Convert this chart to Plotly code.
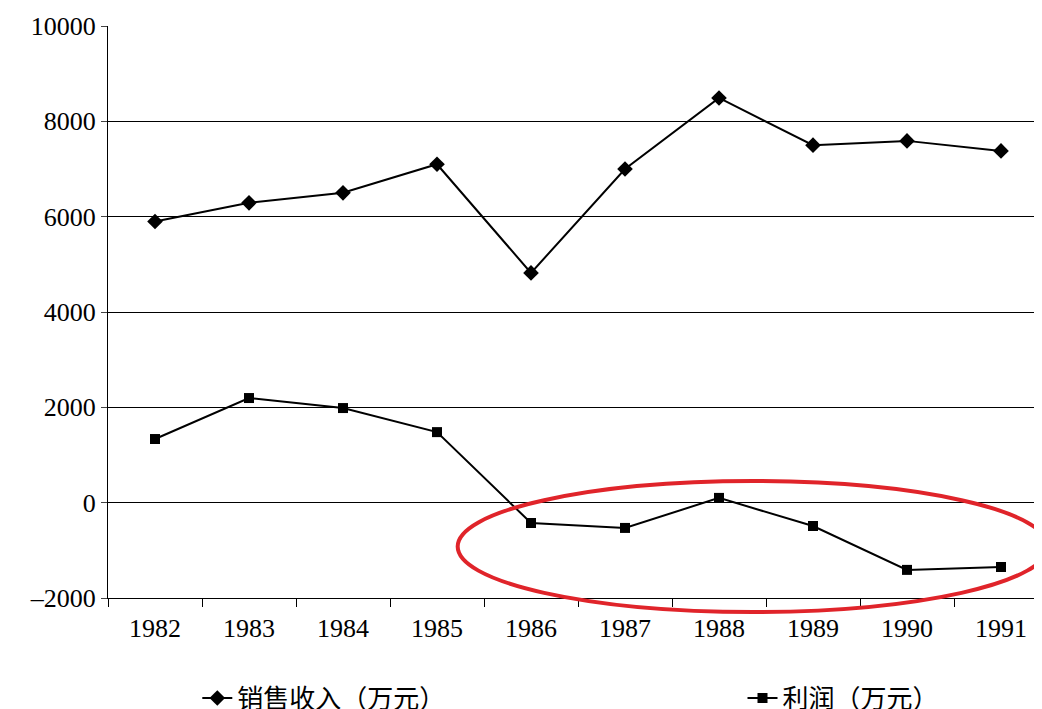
import plotly.graph_objects as go

years = ["1982","1983","1984","1985","1986","1987","1988","1989","1990","1991"]
revenue = [5900, 6290, 6500, 7100, 4820, 7000, 8490, 7500, 7590, 7380]
profit = [1335, 2195, 1985, 1480, -427, -530, 100, -490, -1410, -1350]
xpos = list(range(len(years)))

fig = go.Figure()
fig.add_trace(go.Scatter(x=xpos, y=revenue, mode="lines+markers", name="销售收入（万元）", legend="legend",
    line=dict(color="black", width=2), marker=dict(symbol="diamond", size=12, color="black")))
fig.add_trace(go.Scatter(x=xpos, y=profit, mode="lines+markers", name="利润（万元）", legend="legend2",
    line=dict(color="black", width=2), marker=dict(symbol="square", size=10, color="black")))
fig.add_trace(go.Scatter(x=xpos, y=[None]*len(xpos), xaxis="x2", showlegend=False, hoverinfo="skip"))

fig.add_shape(type="circle", xref="paper", yref="paper", x0=0.372, x1=1.0, y0=-0.0245, y1=0.2045,
              line=dict(color="#e0242a", width=4))

legfont = dict(family="Noto Sans CJK SC", size=26, color="black")
fig.update_layout(
    width=1042, height=709, plot_bgcolor="white", paper_bgcolor="white",
    margin=dict(l=100, r=2, t=18, b=119, autoexpand=False),
    font=dict(family="Liberation Serif, Noto Sans CJK SC", size=26, color="black"),
    xaxis=dict(range=[-0.5, 9.5], tickvals=[i + 0.5 for i in range(-1, 10)], ticktext=[""]*11,
               ticks="outside", ticklen=8, tickcolor="black", showgrid=False, showline=True,
               linecolor="black", zeroline=False),
    xaxis2=dict(range=[-0.5, 9.5], overlaying="x", side="bottom", tickvals=xpos, ticktext=years,
                showgrid=False, ticks="", showline=False, zeroline=False, ticklabelstandoff=12),
    yaxis=dict(range=[-2000, 10000], tickvals=list(range(-2000, 10001, 2000)),
               ticktext=["–2000","0","2000","4000","6000","8000","10000"],
               showgrid=True, gridcolor="black", gridwidth=1.2, showline=True, linecolor="black",
               ticks="outside", ticklen=6, zeroline=False),
    legend=dict(orientation="h", x=0.095, y=-0.175, xanchor="left", yanchor="middle", font=legfont),
    legend2=dict(orientation="h", x=0.675, y=-0.175, xanchor="left", yanchor="middle", font=legfont),
)
fig.write_html("out.html")
